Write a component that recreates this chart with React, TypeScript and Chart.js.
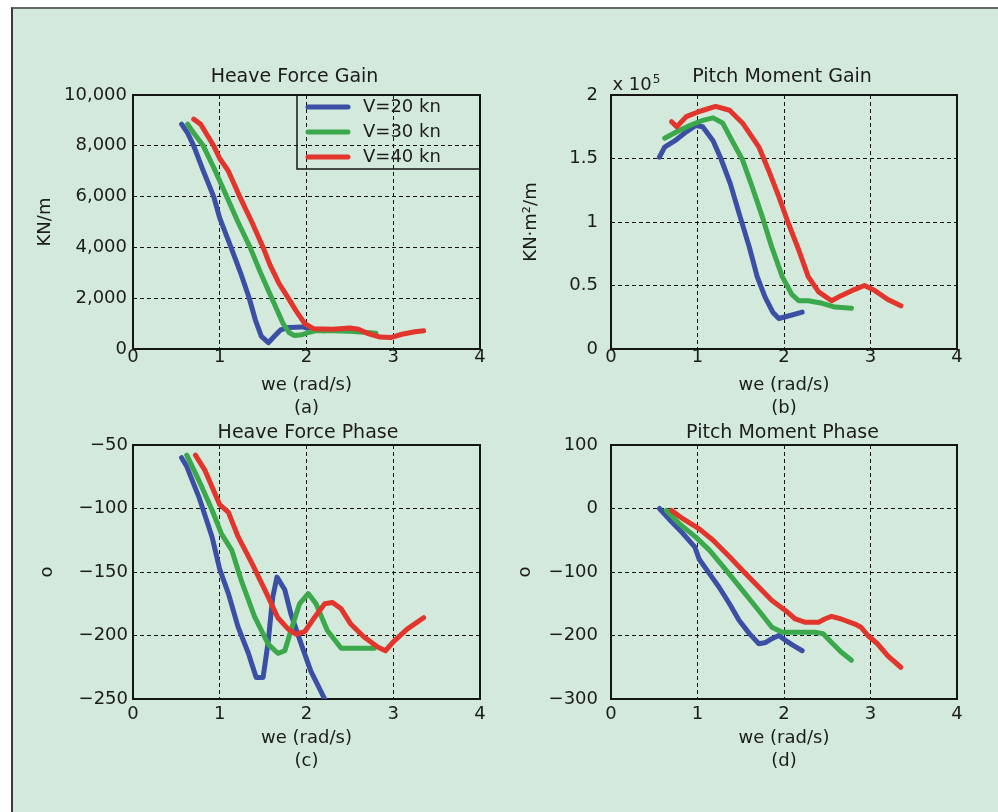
import React, { useEffect, useRef } from "react";
import { Chart, registerables } from "chart.js";

Chart.register(...registerables);

type Pt = [number, number];

// ---------- labels ----------
const SPEED_LABELS = ["V=20 kn", "V=30 kn", "V=40 kn"];
const X_TICKS = ["0", "1", "2", "3", "4"];
const HEAVE_GAIN_TICKS = ["0", "2,000", "4,000", "6,000", "8,000", "10,000"];
const PITCH_GAIN_TICKS = ["0", "0.5", "1", "1.5", "2"];
const HEAVE_PHASE_TICKS = ["\u2212250", "\u2212200", "\u2212150", "\u2212100", "\u221250"];
const PITCH_PHASE_TICKS = ["\u2212300", "\u2212200", "\u2212100", "0", "100"];
const X_TITLE = "we (rad/s)";

// ---------- (a) Heave Force Gain, KN/m ----------
const heaveGain20: Pt[] = [
  [0.56, 8850], [0.63, 8500], [0.7, 8000], [0.8, 7100], [0.93, 6000], [1.0, 5150],
  [1.13, 4000], [1.24, 3000], [1.34, 2000], [1.41, 1150], [1.48, 500], [1.56, 250],
  [1.63, 500], [1.7, 750], [1.8, 850], [1.95, 870], [2.05, 780], [2.2, 720],
];
const heaveGain30: Pt[] = [
  [0.63, 8850], [0.7, 8500], [0.81, 8000], [0.95, 7000], [1.08, 6000], [1.21, 5000],
  [1.35, 4000], [1.47, 3000], [1.6, 2000], [1.73, 1000], [1.8, 650], [1.86, 530],
  [1.95, 560], [2.02, 650], [2.1, 720], [2.3, 720], [2.5, 700], [2.7, 650], [2.8, 620],
];
const heaveGain40: Pt[] = [
  [0.7, 9050], [0.78, 8850], [0.93, 8000], [1.0, 7500], [1.1, 7000], [1.23, 6000],
  [1.37, 5000], [1.5, 4000], [1.58, 3300], [1.68, 2600], [1.79, 2000], [1.88, 1500],
  [1.98, 1000], [2.08, 800], [2.3, 780], [2.5, 830], [2.6, 780], [2.7, 620],
  [2.85, 470], [2.97, 450], [3.1, 580], [3.25, 680], [3.35, 720],
];

// ---------- (b) Pitch Moment Gain, x 10^5 KN·m²/m ----------
const pitchGain20: Pt[] = [
  [0.56, 1.51], [0.62, 1.59], [0.74, 1.64], [0.87, 1.71], [0.98, 1.76], [1.06, 1.75],
  [1.18, 1.64], [1.27, 1.5], [1.38, 1.3], [1.48, 1.07], [1.6, 0.8], [1.69, 0.57],
  [1.78, 0.41], [1.87, 0.29], [1.94, 0.24], [2.05, 0.26], [2.21, 0.29],
];
const pitchGain30: Pt[] = [
  [0.62, 1.66], [0.76, 1.71], [0.91, 1.76], [1.06, 1.8], [1.18, 1.82], [1.29, 1.78],
  [1.4, 1.64], [1.52, 1.49], [1.63, 1.28], [1.75, 1.04], [1.86, 0.8], [1.98, 0.57],
  [2.09, 0.43], [2.17, 0.38], [2.28, 0.38], [2.44, 0.36], [2.59, 0.33], [2.78, 0.32],
];
const pitchGain40: Pt[] = [
  [0.7, 1.79], [0.76, 1.75], [0.87, 1.83], [1.02, 1.87], [1.21, 1.91], [1.37, 1.88],
  [1.52, 1.78], [1.71, 1.59], [1.82, 1.41], [1.94, 1.2], [2.05, 0.99], [2.17, 0.78],
  [2.28, 0.57], [2.4, 0.45], [2.55, 0.38], [2.66, 0.42], [2.82, 0.47], [2.93, 0.5],
  [3.05, 0.46], [3.2, 0.39], [3.35, 0.34],
];

// ---------- (c) Heave Force Phase, degrees ----------
const heavePhase20: Pt[] = [
  [0.56, -60], [0.62, -67], [0.76, -91], [0.91, -122], [1.0, -148], [1.1, -167],
  [1.21, -193], [1.33, -214], [1.42, -233], [1.5, -233], [1.56, -204], [1.61, -170],
  [1.66, -154], [1.75, -164], [1.82, -183], [1.94, -207], [2.05, -228], [2.21, -250],
  [2.27, -262],
];
const heavePhase30: Pt[] = [
  [0.62, -58], [0.76, -78], [0.91, -101], [1.02, -120], [1.14, -133], [1.25, -157],
  [1.4, -185], [1.56, -207], [1.67, -214], [1.75, -212], [1.82, -196], [1.92, -175],
  [2.02, -167], [2.11, -175], [2.24, -196], [2.4, -210], [2.59, -210], [2.78, -210],
];
const heavePhase40: Pt[] = [
  [0.72, -58], [0.83, -70], [1.0, -97], [1.1, -103], [1.21, -122], [1.37, -143],
  [1.52, -164], [1.67, -186], [1.79, -195], [1.88, -199], [1.98, -197], [2.09, -186],
  [2.21, -175], [2.3, -174], [2.4, -179], [2.51, -191], [2.66, -201], [2.82, -209],
  [2.91, -212], [3.0, -205], [3.16, -195], [3.35, -186],
];

// ---------- (d) Pitch Moment Phase, degrees ----------
const pitchPhase20: Pt[] = [
  [0.56, 0], [0.68, -18], [0.83, -39], [0.97, -61], [1.02, -80], [1.14, -103],
  [1.25, -124], [1.37, -150], [1.48, -176], [1.6, -197], [1.71, -213], [1.79, -211],
  [1.86, -205], [1.94, -200], [2.02, -208], [2.11, -216], [2.21, -224],
];
const pitchPhase30: Pt[] = [
  [0.64, -3], [0.79, -24], [0.98, -45], [1.14, -66], [1.33, -97], [1.52, -129],
  [1.71, -161], [1.86, -187], [1.98, -195], [2.13, -195], [2.36, -195], [2.45, -197],
  [2.55, -211], [2.66, -226], [2.78, -239],
];
const pitchPhase40: Pt[] = [
  [0.7, -3], [0.83, -16], [1.02, -32], [1.18, -50], [1.37, -76], [1.56, -103],
  [1.71, -124], [1.86, -145], [2.02, -161], [2.13, -174], [2.24, -179], [2.4, -179],
  [2.47, -174], [2.55, -170], [2.66, -174], [2.82, -182], [2.89, -187], [2.97, -200],
  [3.08, -213], [3.2, -232], [3.35, -250],
];

// ---------- styling ----------
const COLORS = ["#3b4fa5", "#3aa84b", "#e2352b"];
const TEXT = "#1c1c1c";
const GRID = "#151515";
const FONT = "'DejaVu Sans', 'Liberation Sans', sans-serif";
const BG = "#d3e9dc";

interface Panel {
  key: string;
  left: number;
  top: number;
  width: number;
  height: number;
  padTop: number;
  padRight: number;
  padBottom: number;
  yWidth: number;
  xHeight: number;
  yMin: number;
  yMax: number;
  yStep: number;
  yLabels: string[];
  series: Pt[][];
  title: string;
  titleDx: number;
  titleGap: number;
  yTitle: string;
  yTitlePad: number;
  yTickPad: number;
  xTickPad: number;
  letter: string;
  legend: boolean;
  exponent: boolean;
}

const PANELS: Panel[] = [
  {
    key: "a", left: 0, top: 0, width: 499, height: 420,
    padTop: 95, padRight: 19, padBottom: 0, yWidth: 133, xHeight: 71,
    yMin: 0, yMax: 10000, yStep: 2000, yLabels: HEAVE_GAIN_TICKS,
    series: [heaveGain20, heaveGain30, heaveGain40],
    title: "Heave Force Gain", titleDx: -12, titleGap: 18,
    yTitle: "KN/m", yTitlePad: 33.5, yTickPad: 6, xTickPad: -1,
    letter: "(a)", legend: true, exponent: false,
  },
  {
    key: "b", left: 499, top: 0, width: 499, height: 420,
    padTop: 95, padRight: 41, padBottom: 0, yWidth: 112, xHeight: 71,
    yMin: 0, yMax: 2, yStep: 0.5, yLabels: PITCH_GAIN_TICKS,
    series: [pitchGain20, pitchGain30, pitchGain40],
    title: "Pitch Moment Gain", titleDx: -2, titleGap: 18,
    yTitle: "KN\u00b7m\u00b2/m", yTitlePad: 21, yTickPad: 13, xTickPad: -1,
    letter: "(b)", legend: false, exponent: true,
  },
  {
    key: "c", left: 0, top: 420, width: 499, height: 392,
    padTop: 25, padRight: 19, padBottom: 39, yWidth: 133, xHeight: 74,
    yMin: -250, yMax: -50, yStep: 50, yLabels: HEAVE_PHASE_TICKS,
    series: [heavePhase20, heavePhase30, heavePhase40],
    title: "Heave Force Phase", titleDx: 1.5, titleGap: 11.5,
    yTitle: "o", yTitlePad: 35.5, yTickPad: 5, xTickPad: 6,
    letter: "(c)", legend: false, exponent: false,
  },
  {
    key: "d", left: 499, top: 420, width: 499, height: 392,
    padTop: 25, padRight: 41, padBottom: 39, yWidth: 112, xHeight: 74,
    yMin: -300, yMax: 100, yStep: 100, yLabels: PITCH_PHASE_TICKS,
    series: [pitchPhase20, pitchPhase30, pitchPhase40],
    title: "Pitch Moment Phase", titleDx: -1.5, titleGap: 11.5,
    yTitle: "o", yTitlePad: 15, yTickPad: 13, xTickPad: 6,
    letter: "(d)", legend: false, exponent: false,
  },
];

const decoPlugin = {
  id: "deco",
  beforeDatasetsDraw(chart: any, _args: any, opts: any) {
    const { ctx, chartArea: ca } = chart;
    ctx.save();
    ctx.strokeStyle = GRID;
    ctx.lineWidth = 2;
    ctx.strokeRect(ca.left, ca.top, ca.right - ca.left, ca.bottom - ca.top);
    ctx.restore();
  },
  afterDatasetsDraw(chart: any, _args: any, opts: any) {
    const { ctx, chartArea: ca } = chart;
    ctx.save();
    // title
    ctx.fillStyle = TEXT;
    ctx.font = `19px ${FONT}`;
    ctx.textAlign = "center";
    ctx.textBaseline = "middle";
    ctx.fillText(opts.title, (ca.left + ca.right) / 2 + opts.titleDx, ca.top - opts.titleGap);

    if (opts.exponent) {
      ctx.textAlign = "left";
      ctx.textBaseline = "alphabetic";
      ctx.font = `18px ${FONT}`;
      const x0 = ca.left + 1.5;
      ctx.fillText("x 10", x0, ca.top - 5);
      const w = ctx.measureText("x 10").width;
      ctx.font = `12px ${FONT}`;
      ctx.fillText("5", x0 + w + 1, ca.top - 12.5);
    }

    if (opts.legend) {
      const boxL = ca.right - 183;
      const boxT = ca.top;
      const boxW = 183;
      const boxH = 74;
      ctx.lineWidth = 1.5;
      ctx.strokeStyle = GRID;
      ctx.strokeRect(boxL, boxT, boxW, boxH);
      const ds = chart.data.datasets;
      ctx.font = `18px ${FONT}`;
      ctx.textAlign = "left";
      ctx.textBaseline = "middle";
      ds.forEach((d: any, i: number) => {
        const y = boxT + 12 + i * 25;
        ctx.strokeStyle = d.borderColor;
        ctx.lineWidth = 5;
        ctx.lineCap = "round";
        ctx.beginPath();
        ctx.moveTo(boxL + 11, y);
        ctx.lineTo(boxL + 51, y);
        ctx.stroke();
        ctx.fillStyle = TEXT;
        ctx.fillText(d.label, boxL + 66, y);
      });
    }
    ctx.restore();
  },
};

function PanelChart({ p }: { p: Panel }) {
  const ref = useRef<HTMLCanvasElement | null>(null);
  useEffect(() => {
    if (!ref.current) return;
    const chart = new Chart(ref.current, {
      type: "line",
      data: {
        datasets: p.series.map((s, i) => ({
          label: SPEED_LABELS[i],
          data: s.map(([x, y]) => ({ x, y })),
          borderColor: COLORS[i],
          backgroundColor: COLORS[i],
          borderWidth: 5,
          pointRadius: 0,
          tension: 0,
          fill: false,
          clip: 0,
          order: 2 - i,
          borderJoinStyle: "round",
          borderCapStyle: "round",
        })),
      },
      options: {
        responsive: false,
        animation: false,
        events: [],
        layout: { padding: { top: p.padTop, right: p.padRight, bottom: p.padBottom, left: 0 } },
        plugins: {
          legend: { display: false },
          tooltip: { enabled: false },
          title: { display: false },
          // @ts-ignore
          deco: {
            title: p.title,
            titleDx: p.titleDx,
            titleGap: p.titleGap,
            legend: p.legend,
            exponent: p.exponent,
          },
        },
        scales: {
          x: {
            type: "linear",
            min: 0,
            max: 4,
            afterFit: (s: any) => {
              s.height = p.xHeight;
            },
            ticks: {
              stepSize: 1,
              padding: p.xTickPad,
              color: TEXT,
              maxRotation: 0,
              autoSkip: false,
              font: { family: FONT, size: 18, lineHeight: 1 },
              callback: (_v: any, i: number) => X_TICKS[i],
            },
            grid: { color: GRID, lineWidth: 1, drawTicks: false },
            border: { display: false, dash: [4, 3] },
            title: {
              display: true,
              text: [X_TITLE, p.letter],
              color: TEXT,
              font: { family: FONT, size: 18, lineHeight: 1.28 },
              padding: { top: 0, bottom: 0 },
            },
          },
          y: {
            type: "linear",
            min: p.yMin,
            max: p.yMax,
            afterFit: (s: any) => {
              s.width = p.yWidth;
            },
            ticks: {
              stepSize: p.yStep,
              padding: p.yTickPad,
              color: TEXT,
              autoSkip: false,
              font: { family: FONT, size: 18, lineHeight: 1.2 },
              callback: (_v: any, i: number) => p.yLabels[i],
            },
            grid: { color: GRID, lineWidth: 1, drawTicks: false },
            border: { display: false, dash: [4, 3] },
            title: {
              display: true,
              text: p.yTitle,
              color: TEXT,
              font: { family: FONT, size: 18, lineHeight: 1.28 },
              padding: { top: p.yTitlePad, bottom: 0 },
            },
          },
        },
      } as any,
      plugins: [decoPlugin as any],
    });
    return () => chart.destroy();
  }, [p]);
  return (
    <canvas
      ref={ref}
      width={p.width}
      height={p.height}
      style={{ position: "absolute", left: p.left, top: p.top, width: p.width, height: p.height, display: "block" }}
    />
  );
}

export default function App() {
  return (
    <div
      style={{
        position: "absolute",
        left: 0,
        top: 0,
        width: 998,
        height: 812,
        background: "#ffffff",
        overflow: "hidden",
      }}
    >
      <div
        style={{
          position: "absolute",
          left: 11,
          top: 7,
          right: 0,
          bottom: 0,
          background: BG,
          borderLeft: "2px solid #3a3a3a",
          borderTop: "2px solid #666666",
        }}
      />
      {PANELS.map((p) => (
        <PanelChart key={p.key} p={p} />
      ))}
    </div>
  );
}
